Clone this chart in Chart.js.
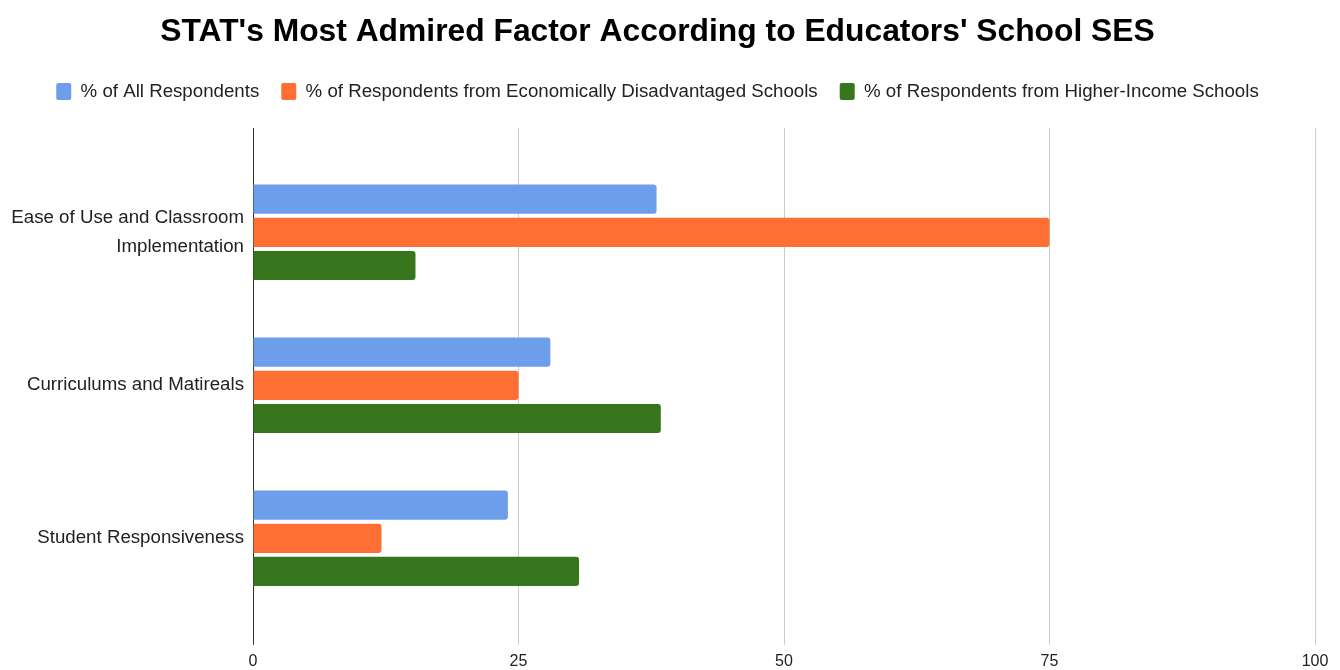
<!DOCTYPE html>
<html>
<head>
<meta charset="utf-8">
<script src="https://cdn.jsdelivr.net/npm/chart.js@4.4.0/dist/chart.umd.min.js"></script>
<style>
  html, body { margin: 0; padding: 0; background: #fff; }
  #wrap { width: 1340px; height: 670px; }
</style>
</head>
<body>
<div id="wrap"><canvas id="barChart"></canvas></div>
<script>
const categories = [
    ['Ease of Use and Classroom', 'Implementation'],
    'Curriculums and Matireals',
    'Student Responsiveness'
];
const allRespondents = [38.0, 28.0, 24.0];
const disadvantaged = [75.0, 25.0, 12.1];
const higherIncome = [15.3, 38.4, 30.7];
const xTicks = [0, 25, 50, 75, 100];

const seriesNames = [
    '% of All Respondents',
    '% of Respondents from Economically Disadvantaged Schools',
    '% of Respondents from Higher-Income Schools'
];

Chart.defaults.font.family = "'Liberation Sans', Arial, sans-serif";
Chart.defaults.color = '#222';

// first gridline (value 0) doubles as the dark baseline
const gridColor = ctx => (ctx.index === 0 ? '#333333' : '#cccccc');

function makeBar(label, values, color) {
    return {
        label: label,
        data: values,
        backgroundColor: color,
        borderColor: color,
        borderRadius: 3,
        borderSkipped: 'start',
        categoryPercentage: 0.65,
        barPercentage: 0.88
    };
}

const data1 = {
    labels: categories,
    datasets: [
        makeBar(seriesNames[0], allRespondents, '#6d9eeb'),
        makeBar(seriesNames[1], disadvantaged, '#ff6f33'),
        makeBar(seriesNames[2], higherIncome, '#38761d')
    ]
};

const options1 = {
    indexAxis: 'y',
    responsive: true,
    maintainAspectRatio: false,
    animation: false,
    layout: { padding: { left: 0, right: 25, top: 0, bottom: -8 } },
    plugins: {
        title: {
            display: true,
            text: "STAT's Most Admired Factor According to Educators' School SES",
            color: '#000',
            font: { family: "'Liberation Sans', Arial, sans-serif", size: 31.8, weight: 'bold' },
            padding: { top: 13, bottom: 9 }
        },
        legend: {
            display: true,
            position: 'top',
            labels: {
                boxWidth: 15,
                boxHeight: 17,
                padding: 22,
                color: '#222',
                font: { size: 18.7 },
                useBorderRadius: true,
                borderRadius: 2
            }
        },
        tooltip: { enabled: false }
    },
    scales: {
        x: {
            type: 'linear',
            position: 'bottom',
            min: 0,
            max: 100,
            afterBuildTicks: s => { s.ticks = xTicks.map(v => ({ value: v })); },
            grid: { color: gridColor, tickLength: 30, lineWidth: 1 },
            border: { display: false },
            ticks: { font: { size: 16 }, color: '#222', padding: 7 }
        },
        // top copy of the x axis: only extends the gridlines above the bars
        xTop: {
            type: 'linear',
            position: 'top',
            axis: 'x',
            min: 0,
            max: 100,
            afterBuildTicks: s => { s.ticks = xTicks.map(v => ({ value: v })); },
            grid: { color: gridColor, tickLength: 28, drawOnChartArea: false },
            border: { display: false },
            ticks: { display: false },
            title: { display: true, text: '', font: { size: 10, lineHeight: 1 }, padding: { top: 7, bottom: 0 } }
        },
        y: {
            grid: { display: false },
            border: { display: false },
            afterFit: s => { s.width = 253; },
            ticks: {
                font: { size: 18.7, lineHeight: 1.55 },
                color: '#222',
                padding: 1
            }
        }
    }
};

new Chart(document.getElementById('barChart'), {
    type: 'bar',
    data: data1,
    options: options1
});
</script>
</body>
</html>
